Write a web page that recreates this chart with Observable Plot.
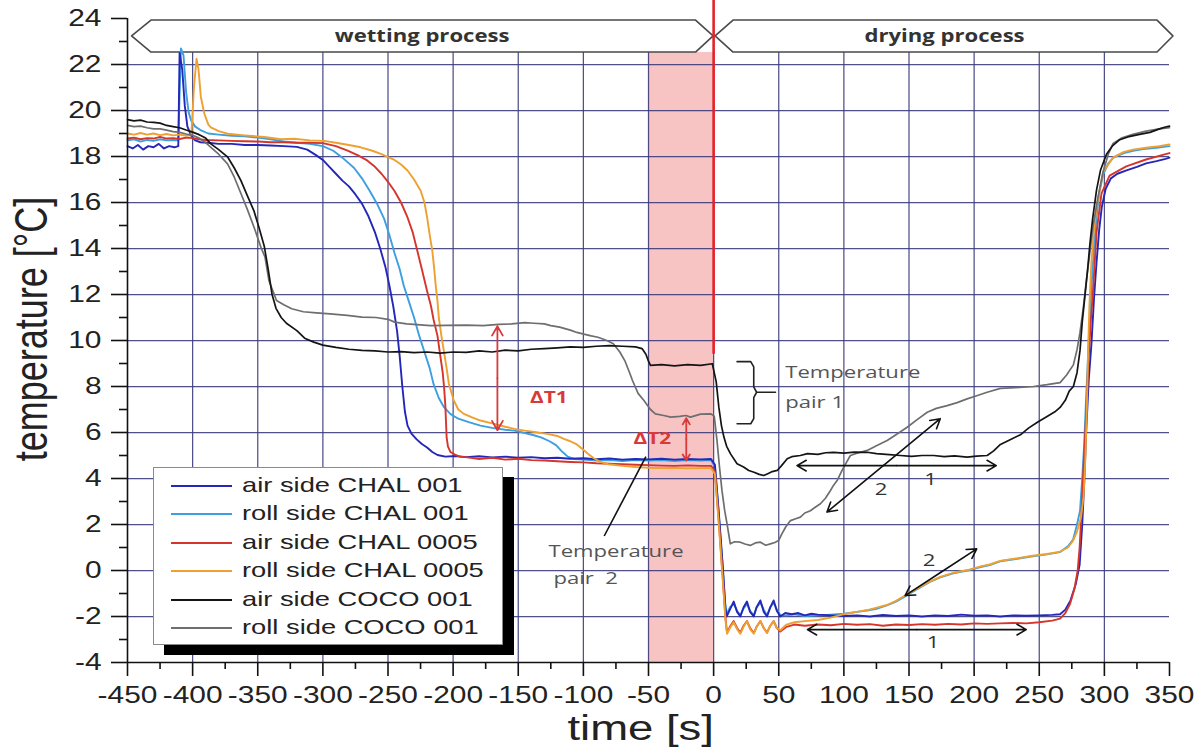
<!DOCTYPE html>
<html>
<head>
<meta charset="utf-8">
<script src="https://cdn.jsdelivr.net/npm/d3@7"></script>
<script src="https://cdn.jsdelivr.net/npm/@observablehq/plot@0.6"></script>
<style>
  body { margin: 0; background: #fff; }
  #wrap { position: relative; width: 1203px; height: 753px; overflow: hidden; }
  #legend { position: absolute; left: 153px; top: 467px; width: 348px; height: 176px;
            background: #fff; border: 1.5px solid #8a8a8a; box-shadow: 11px 10px 0 #000; }
  .lrow { position: absolute; left: 0; height: 28px; width: 100%; }
  .lline { position: absolute; left: 17px; width: 61px; top: 13px; height: 0; }
  .ltext { position: absolute; left: 88px; top: 1px; font-family: "Liberation Sans", Arial, sans-serif;
           font-size: 21px; color: #222; white-space: nowrap; transform: scaleX(1.3); transform-origin: left center; }
</style>
</head>
<body>
<div id="wrap"><div id="chart"></div><div id="legend"></div></div>
<script>
// ---------- axes / ticks ----------
const xMajor = [-450,-400,-350,-300,-250,-200,-150,-100,-50,0,50,100,150,200,250,300,350];
const xMinor = [-425,-375,-325,-275,-225,-175,-125,-75,-25,25,75,125,175,225,275,325];
const yMajor = [-4,-2,0,2,4,6,8,10,12,14,16,18,20,22,24];
const yMinor = [-3,-1,1,3,5,7,9,11,13,15,17,19,21,23];
const xGrid = [-400,-350,-300,-250,-200,-150,-100,-50,0,50,100,150,200,250,300];
const yGrid = [-2,0,2,4,6,8,10,12,14,16,18,20,22];

// ---------- series ----------
const seriesNames = ["air side CHAL 001","roll side CHAL 001","air side CHAL 0005","roll side CHAL 0005","air side COCO 001","roll side COCO 001"];
const seriesColors = ["#2427b8","#3d9fe0","#d6352b","#eea030","#141414","#6e6e6e"];

const airChal001 = [[-450,18.45],[-446,18.35],[-442,18.5],[-438,18.3],[-434,18.45],[-430,18.4],[-426,18.55],[-422,18.35],[-418,18.45],[-414,18.4],[-411,18.45],[-410,22.5],[-408,21.8],[-406,20.2],[-404,19.3],[-401,18.9],[-398,18.7],[-394,18.62],[-388,18.6],[-380,18.55],[-370,18.55],[-360,18.5],[-350,18.5],[-340,18.48],[-330,18.45],[-320,18.42],[-312,18.3],[-305,18.05],[-300,17.85],[-295,17.55],[-290,17.25],[-285,16.95],[-280,16.7],[-275,16.35],[-270,15.95],[-265,15.4],[-260,14.7],[-256,14.0],[-252,13.2],[-249,12.4],[-246,11.5],[-243,10.4],[-241,9.3],[-239,8.0],[-237,6.9],[-235,6.3],[-232,5.95],[-228,5.7],[-224,5.5],[-220,5.35],[-216,5.15],[-212,5.02],[-206,4.95],[-198,4.98],[-190,4.93],[-180,4.97],[-170,4.92],[-160,4.95],[-150,4.9],[-140,4.93],[-130,4.88],[-120,4.9],[-110,4.86],[-100,4.88],[-90,4.84],[-80,4.87],[-70,4.82],[-60,4.85],[-50,4.83],[-40,4.86],[-30,4.82],[-20,4.85],[-10,4.83],[-2,4.85],[1,4.6],[4,2.5],[7,0.2],[9,-1.6],[10,-2.0],[12.5,-1.7],[15.4,-1.35],[18,-1.8],[20.5,-2.0],[23,-1.6],[25.6,-1.35],[28,-1.8],[30.8,-2.0],[33,-1.6],[35.9,-1.3],[38.5,-1.8],[41,-2.0],[43.5,-1.6],[46.1,-1.3],[48.5,-1.75],[51.2,-2.0],[55,-1.85],[60,-1.9],[65,-1.85],[70,-1.95],[75,-1.88],[80,-1.92],[90,-1.95],[100,-1.98],[110,-1.95],[120,-2.0],[130,-1.93],[140,-1.98],[150,-1.95],[160,-2.0],[170,-1.95],[180,-1.98],[190,-1.92],[200,-1.96],[210,-1.95],[220,-2.0],[230,-1.95],[240,-1.97],[250,-1.95],[260,-1.93],[266,-1.9],[270,-1.7],[274,-1.3],[278,-0.6],[281,0.25],[283,2.0],[284.5,3.8],[286,6.0],[288,8.3],[290,9.8],[292,11.8],[294,13.4],[296,14.8],[298,15.8],[301,16.6],[305,17.05],[310,17.25],[317,17.4],[325,17.55],[332,17.7],[340,17.8],[347,17.9],[350,17.95]];

const rollChal001 = [[-450,18.7],[-445,18.75],[-440,18.65],[-435,18.72],[-430,18.68],[-425,18.75],[-420,18.7],[-415,18.72],[-411,18.7],[-409,22.7],[-407,22.4],[-405,20.8],[-403,19.9],[-401,19.55],[-398,19.3],[-394,19.15],[-388,19.0],[-380,18.95],[-370,18.9],[-360,18.88],[-350,18.82],[-340,18.75],[-330,18.65],[-320,18.6],[-310,18.55],[-300,18.45],[-292,18.25],[-285,17.95],[-280,17.7],[-276,17.5],[-270,17.05],[-264,16.5],[-258,15.9],[-253,15.3],[-249,14.6],[-245,13.8],[-241,13.1],[-238,12.4],[-234,11.7],[-230,11.0],[-226,10.2],[-222,9.5],[-218,8.8],[-215,8.1],[-211,7.5],[-207,7.1],[-202,6.8],[-196,6.6],[-188,6.45],[-179,6.3],[-170,6.2],[-160,6.12],[-153,6.08],[-145,5.98],[-138,5.88],[-132,5.78],[-126,5.62],[-121,5.45],[-116,5.15],[-112,4.95],[-107,4.85],[-100,4.82],[-90,4.78],[-80,4.8],[-70,4.76],[-60,4.8],[-50,4.78],[-40,4.8],[-30,4.76],[-20,4.8],[-10,4.78],[-2,4.8],[1,4.5],[4,2.4],[7,0.1],[9,-1.5],[10,-1.9],[12.5,-1.6],[15.4,-1.45],[18,-1.75],[20.5,-1.95],[23,-1.65],[25.6,-1.45],[28,-1.75],[30.8,-1.95],[33,-1.6],[35.9,-1.4],[38.5,-1.7],[41,-1.95],[43.5,-1.6],[46.1,-1.4],[48.5,-1.7],[51.2,-1.95],[56,-1.95],[62,-1.9],[70,-1.98],[80,-1.95],[90,-1.92],[100,-1.88],[110,-1.8],[118,-1.74],[126,-1.65],[133,-1.52],[140,-1.35],[146,-1.16],[152,-0.95],[159,-0.72],[166,-0.5],[174,-0.3],[184,-0.12],[195,0.0],[205,0.15],[212,0.24],[220,0.4],[232,0.5],[245,0.62],[256,0.7],[266,0.8],[272,1.05],[276,1.35],[279,2.0],[281.3,2.6],[283,4.0],[284.5,5.5],[286,7.5],[288,10.0],[290,12.3],[292,14.0],[294,15.4],[296,16.4],[299,17.2],[303,17.7],[307,17.95],[315,18.15],[322,18.25],[330,18.32],[340,18.38],[350,18.45]];

const airChal0005 = [[-450,18.78],[-445,18.82],[-440,18.75],[-435,18.8],[-430,18.78],[-425,18.85],[-420,18.78],[-415,18.8],[-410,18.76],[-405,18.82],[-400,18.8],[-395,18.75],[-390,18.72],[-380,18.7],[-370,18.68],[-360,18.66],[-350,18.65],[-340,18.62],[-330,18.62],[-320,18.6],[-310,18.6],[-300,18.58],[-290,18.45],[-281,18.26],[-273,18.05],[-266,17.83],[-260,17.55],[-255,17.25],[-250,16.9],[-245,16.5],[-240,16.0],[-235,15.35],[-231,14.7],[-227.5,13.9],[-224,13.1],[-220,12.15],[-217,11.5],[-215,10.9],[-212,10.2],[-210,9.4],[-208,8.6],[-207,8.0],[-206,7.2],[-205.5,6.5],[-205,5.8],[-204,5.4],[-202,5.15],[-199,5.05],[-195,4.95],[-189,4.92],[-180,4.85],[-170,4.9],[-160,4.82],[-150,4.86],[-140,4.8],[-130,4.78],[-120,4.75],[-110,4.72],[-100,4.7],[-90,4.66],[-80,4.64],[-70,4.62],[-60,4.6],[-50,4.58],[-40,4.56],[-30,4.55],[-20,4.57],[-10,4.55],[-2,4.55],[1,4.3],[4,2.1],[7,-0.3],[9,-2.0],[10.3,-2.7],[12.5,-2.45],[15.4,-2.2],[18,-2.5],[20.5,-2.7],[23,-2.4],[25.6,-2.2],[28,-2.5],[30.8,-2.72],[33,-2.45],[35.9,-2.2],[38.5,-2.5],[41,-2.7],[43.5,-2.4],[46.1,-2.2],[48.5,-2.5],[51.2,-2.65],[56,-2.45],[62,-2.35],[70,-2.4],[80,-2.35],[90,-2.38],[100,-2.32],[110,-2.36],[120,-2.33],[130,-2.4],[140,-2.35],[150,-2.37],[160,-2.33],[170,-2.36],[180,-2.32],[190,-2.35],[200,-2.3],[210,-2.32],[220,-2.3],[230,-2.28],[240,-2.3],[250,-2.25],[260,-2.18],[266,-2.09],[270,-1.85],[273.6,-1.46],[277,-0.8],[279.5,0.0],[281,1.0],[282.5,2.6],[284,4.5],[285.8,6.5],[287.5,8.8],[289.5,10.8],[291,11.9],[294,14.7],[297.8,16.4],[304,17.17],[316.8,17.57],[332,17.87],[347,18.1],[350,18.15]];

const rollChal0005 = [[-450,19.0],[-445,18.95],[-440,19.02],[-435,18.95],[-430,19.0],[-425,18.93],[-420,18.98],[-415,18.92],[-410,18.95],[-405,18.9],[-401,18.92],[-399,21.0],[-397,22.25],[-395.5,21.8],[-393.7,20.6],[-391,19.86],[-388,19.4],[-386,19.27],[-380,19.1],[-373,18.99],[-360,18.92],[-345,18.85],[-332,18.75],[-322,18.77],[-310,18.7],[-299,18.68],[-290,18.6],[-280,18.5],[-271,18.4],[-262,18.25],[-255,18.1],[-250,17.97],[-245,17.85],[-240,17.65],[-235,17.39],[-230,17.0],[-225,16.52],[-222,16.0],[-220,15.36],[-218,14.6],[-216,13.91],[-214.5,13.1],[-213.5,12.46],[-212,11.7],[-211,11.0],[-209,10.2],[-207.2,9.57],[-205,8.8],[-203.3,8.12],[-199.5,7.39],[-196,7.0],[-191.8,6.81],[-185,6.65],[-179,6.52],[-170,6.4],[-160,6.25],[-153,6.16],[-145,6.08],[-135,6.0],[-127.8,5.94],[-120,5.85],[-115,5.72],[-110,5.62],[-105,5.48],[-100,5.25],[-96,5.05],[-92,4.88],[-87,4.72],[-81,4.62],[-70,4.55],[-60,4.5],[-50,4.47],[-40,4.45],[-30,4.46],[-20,4.44],[-10,4.45],[-2,4.45],[1,4.2],[4,2.0],[7,-0.4],[9,-2.1],[10.3,-2.75],[12.5,-2.5],[15.4,-2.25],[18,-2.55],[20.5,-2.75],[23,-2.45],[25.6,-2.2],[28,-2.55],[30.8,-2.75],[33,-2.45],[35.9,-2.2],[38.5,-2.5],[41,-2.72],[43.5,-2.4],[46.1,-2.2],[48.5,-2.5],[51.2,-2.6],[56,-2.35],[62,-2.25],[70,-2.2],[80,-2.15],[90,-2.05],[100,-1.9],[110,-1.8],[118,-1.72],[126,-1.6],[133,-1.5],[140,-1.32],[146,-1.12],[152,-0.92],[159,-0.7],[166,-0.48],[174,-0.28],[184,-0.1],[195,0.02],[205,0.18],[212,0.26],[220,0.42],[232,0.52],[245,0.64],[256,0.72],[266,0.82],[272,1.0],[276,1.3],[279,1.7],[282,2.3],[284,3.2],[285.5,5.0],[286.5,7.0],[287.5,9.5],[288.5,11.5],[290.1,13.45],[292,14.8],[294,15.8],[299,17.33],[306.7,17.96],[315,18.2],[322,18.3],[332,18.38],[342,18.45],[350,18.52]];

const airCoco001 = [[-450,19.6],[-445,19.55],[-440,19.58],[-435,19.5],[-430,19.48],[-425,19.45],[-420,19.35],[-415,19.3],[-410,19.25],[-405,19.15],[-400,19.06],[-395,18.95],[-390,18.8],[-386,18.55],[-380,18.3],[-373,17.97],[-368,17.5],[-363,16.96],[-358,16.3],[-353,15.65],[-349,14.9],[-345,14.1],[-342,13.1],[-339,12.0],[-336,11.4],[-332,11.0],[-328,10.75],[-320,10.43],[-314,10.1],[-307,9.93],[-300,9.8],[-290,9.7],[-280,9.62],[-270,9.57],[-260,9.55],[-250,9.5],[-240,9.52],[-230,9.47],[-220,9.5],[-210,9.45],[-200,9.5],[-190,9.48],[-180,9.55],[-170,9.5],[-160,9.58],[-150,9.55],[-140,9.62],[-130,9.65],[-120,9.68],[-110,9.72],[-100,9.7],[-90,9.75],[-80,9.78],[-70,9.75],[-60,9.72],[-55,9.65],[-52,9.4],[-50,9.1],[-48.5,8.92],[-40,8.95],[-30,8.9],[-20,8.95],[-10,8.92],[-1,8.99],[2,8.2],[4,7.1],[6,6.3],[7.9,5.8],[10,5.4],[13,5.07],[18,4.64],[23,4.5],[27,4.35],[31,4.27],[35,4.18],[38.5,4.13],[42,4.22],[45,4.3],[48.8,4.35],[52,4.55],[56.5,4.86],[60,4.95],[66.6,5.0],[72,5.08],[80,5.05],[86,5.12],[92,5.14],[100,5.1],[108,5.15],[117.9,5.14],[125,5.08],[135,5.04],[143.4,5.0],[152,4.96],[160,5.0],[169,5.0],[177,4.95],[185,4.98],[194.6,4.93],[202,4.97],[210,5.0],[215,5.2],[220.2,5.48],[228,5.7],[235.5,5.9],[242,6.2],[248.9,6.46],[256,6.7],[262,6.9],[266,7.09],[270,7.4],[273,7.8],[276.2,8.0],[279,8.6],[281.3,9.57],[283,10.8],[285,11.9],[287,13.0],[288.9,14.2],[291,15.3],[294,16.55],[297,17.4],[301.6,18.1],[306,18.45],[311.8,18.73],[318,18.85],[327,18.96],[335,19.05],[342.3,19.2],[346.2,19.27],[350,19.32]];

const rollCoco001 = [[-450,19.35],[-445,19.3],[-440,19.32],[-435,19.25],[-430,19.2],[-425,19.2],[-420,19.15],[-415,19.08],[-410,19.05],[-405,18.98],[-400,18.92],[-395,18.8],[-390,18.6],[-386,18.4],[-380,18.1],[-373.2,17.68],[-368,17.1],[-363,16.4],[-358,15.7],[-352.7,14.9],[-347.6,14.06],[-344.4,13.62],[-341.4,12.6],[-338,12.1],[-335.6,11.74],[-330,11.55],[-323.9,11.38],[-315,11.25],[-305,11.2],[-294.5,11.16],[-281.3,11.09],[-270,11.02],[-259.2,11.0],[-250,10.92],[-245,10.8],[-235.6,10.72],[-225,10.68],[-217.4,10.65],[-205,10.66],[-190,10.67],[-176.9,10.65],[-165,10.7],[-155,10.72],[-145,10.78],[-138.1,10.75],[-130,10.72],[-125,10.65],[-118.2,10.58],[-110,10.45],[-105,10.35],[-100.5,10.29],[-94,10.2],[-88.8,10.14],[-82,10.0],[-77,9.86],[-72,9.5],[-68,9.1],[-64.5,8.6],[-62.3,8.26],[-58,7.7],[-53.5,7.39],[-48.5,7.0],[-44.7,6.81],[-38.3,6.74],[-32.9,6.67],[-26,6.7],[-21.2,6.74],[-17.8,6.67],[-10,6.8],[-2,6.81],[0.5,6.7],[2.6,5.65],[4.5,4.5],[6.4,3.48],[8.5,2.6],[10.3,2.03],[12.8,1.16],[16,1.25],[20.5,1.23],[24,1.15],[28.2,1.09],[32,1.2],[35.9,1.23],[40,1.1],[43.6,1.16],[47,1.22],[49.9,1.3],[52.5,1.6],[55.2,1.88],[59,2.17],[63,2.25],[66.6,2.32],[70,2.5],[74.3,2.6],[78,2.75],[82,2.9],[86,3.15],[89.7,3.48],[92,3.7],[94.8,3.91],[98.6,4.35],[102,4.7],[105,5.0],[110,5.1],[117.9,5.22],[125,5.42],[133.2,5.65],[140,5.9],[148.6,6.23],[156,6.55],[164,6.88],[171,7.05],[179.3,7.17],[187,7.3],[194.6,7.46],[202,7.6],[210,7.75],[220.2,7.92],[232,7.95],[245.6,8.0],[256,8.08],[266,8.17],[271,8.5],[276.2,8.94],[279,9.6],[281.3,10.35],[284,11.5],[286.3,12.67],[289,13.9],[291.4,15.0],[295,16.2],[299,17.33],[303,18.1],[306.7,18.57],[313,18.8],[321.9,18.96],[332,19.1],[342.3,19.2],[350,19.25]];

const seriesData = [airChal001, rollChal001, airChal0005, rollChal0005, airCoco001, rollCoco001];
const drawOrder = [1, 0, 2, 3, 5, 4];

// ---------- annotations (data coordinates) ----------
const shadedPeriod = [{x1: -50, x2: 0, y1: -4, y2: 22.52}];
const processBands = [
  {band: "wetting", x: -446.5, lo: 23.22, hi: 23.22}, {band: "wetting", x: -431.6, lo: 22.52, hi: 23.91},
  {band: "wetting", x: -13.5, lo: 22.52, hi: 23.91}, {band: "wetting", x: 0, lo: 23.22, hi: 23.22},
  {band: "drying", x: 1.5, lo: 23.22, hi: 23.22}, {band: "drying", x: 15.3, lo: 22.52, hi: 23.91},
  {band: "drying", x: 340.8, lo: 22.52, hi: 23.91}, {band: "drying", x: 353, lo: 23.22, hi: 23.22}
];
const bandLabels = [{x: -223.8, y: 23.2, text: "wetting process"}, {x: 177.3, y: 23.2, text: "drying process"}];
const switchLine = [{x: 0, y1: 9.4, y2: 24.8}];
const deltaArrows = [{x1: -166, y1: 10.62, x2: -166, y2: 6.1}, {x1: -21, y1: 6.62, x2: -21, y2: 4.78}];
const deltaLabels = [{x: -126.5, y: 7.5, text: "ΔT1"}, {x: -47, y: 5.72, text: "ΔT2"}];
const blackArrows = [
  {x1: 64, y1: 4.56, x2: 217, y2: 4.56},
  {x1: 87, y1: 2.54, x2: 174, y2: 6.6},
  {x1: 147, y1: -1.09, x2: 202, y2: 0.94},
  {x1: 72, y1: -2.57, x2: 240, y2: -2.57}
];
const numberLabels = [{x: 166.5, y: 3.95, text: "1"}, {x: 128.5, y: 3.5, text: "2"}, {x: 165.5, y: 0.45, text: "2"}, {x: 168.5, y: -3.12, text: "1"}];
const pairTexts = [
  {x: 55, y: 8.62, text: "Temperature"}, {x: 55, y: 7.32, text: "pair 1"},
  {x: -126.8, y: 0.83, text: "Temperature"}, {x: -123, y: -0.35, text: "pair  2"}
];
const pair1Bracket = [[18,9.08],[28.5,9.08],[30.8,8.85],[30.8,7.98],[33,7.75],[47.5,7.75],[33,7.75],[30.8,7.52],[30.8,6.6],[28.5,6.38],[18,6.38]];
const pair2Pointer = [{x1: -84, y1: 1.5, x2: -52, y2: 4.95}];

// split double-headed arrows into two arrows from the middle
const dbl = arr => arr.flatMap(a => {
  const mx = (a.x1 + a.x2) / 2, my = (a.y1 + a.y2) / 2;
  return [{x1: mx, y1: my, x2: a.x1, y2: a.y1}, {x1: mx, y1: my, x2: a.x2, y2: a.y2}];
});

const gridColor = "#3c3c7c";
const lineMarks = drawOrder.map(i => Plot.line(seriesData[i], {x: d => d[0], y: d => d[1], stroke: seriesColors[i], strokeWidth: i >= 4 ? 1.7 : 1.9}));

const chart = Plot.plot({
  width: 1203, height: 753,
  marginLeft: 127, marginRight: 34, marginTop: 18, marginBottom: 91,
  x: {domain: [-450, 350]},
  y: {domain: [-4, 24]},
  style: {fontFamily: "'Liberation Sans', Arial, sans-serif", background: "#fff", color: "#222"},
  marks: [
    Plot.rect(shadedPeriod, {x1: "x1", x2: "x2", y1: "y1", y2: "y2", fill: "#f7c3c3"}),
    Plot.ruleX(xGrid, {y1: -4, y2: 22.52, stroke: gridColor, strokeWidth: 1.25, strokeOpacity: 0.9}),
    Plot.ruleY(yGrid, {x1: -450, x2: 350, stroke: gridColor, strokeWidth: 1.25, strokeOpacity: 0.9}),
    Plot.areaY(processBands, {x: "x", y1: "lo", y2: "hi", z: "band", fill: "#fff", stroke: "#4a4a4a", strokeWidth: 1.6}),
    Plot.text(bandLabels, {x: "x", y: "y", text: "text", fontFamily: "'Open Sans', sans-serif", fontWeight: "bold", fontSize: 17, fill: "#333"}),
    ...lineMarks,
    Plot.ruleX(switchLine, {x: "x", y1: "y1", y2: "y2", stroke: "#e3232a", strokeWidth: 2.6}),
    Plot.arrow(dbl(deltaArrows), {x1: "x1", y1: "y1", x2: "x2", y2: "y2", stroke: "#d83a3a", strokeWidth: 1.8, headLength: 9}),
    Plot.text(deltaLabels, {x: "x", y: "y", text: "text", fill: "#d83a3a", fontFamily: "'Open Sans', sans-serif", fontWeight: "bold", fontSize: 16}),
    Plot.arrow(dbl(blackArrows), {x1: "x1", y1: "y1", x2: "x2", y2: "y2", stroke: "#111", strokeWidth: 1.6, headLength: 10}),
    Plot.text(numberLabels, {x: "x", y: "y", text: "text", fill: "#333", fontFamily: "'Open Sans', sans-serif", fontSize: 17}),
    Plot.line(pair1Bracket, {x: d => d[0], y: d => d[1], stroke: "#222", strokeWidth: 1.6}),
    Plot.link(pair2Pointer, {x1: "x1", y1: "y1", x2: "x2", y2: "y2", stroke: "#111", strokeWidth: 1.6}),
    Plot.text(pairTexts, {x: "x", y: "y", text: "text", textAnchor: "start", fill: "#555", fontFamily: "'Open Sans', sans-serif", fontSize: 17}),
    Plot.ruleX([-450], {y1: -4, y2: 24, stroke: "#111", strokeWidth: 1.6}),
    Plot.ruleY([-4], {x1: -450, x2: 350, stroke: "#111", strokeWidth: 1.6}),
    Plot.axisX({ticks: xMajor, tickSize: 14, tickPadding: 10, fontSize: 23, tickFormat: d => String(d), label: null, stroke: "#111", strokeWidth: 1.6}),
    Plot.axisX({ticks: xMinor, tickSize: 7, tickFormat: () => "", label: null, stroke: "#111", strokeWidth: 1.6}),
    Plot.axisY({ticks: yMajor, tickSize: 16, tickPadding: 10, fontSize: 23, tickFormat: d => String(d), label: null, stroke: "#111", strokeWidth: 1.6}),
    Plot.axisY({ticks: yMinor, tickSize: 8, tickFormat: () => "", label: null, stroke: "#111", strokeWidth: 1.6}),
    Plot.text(["time [s]"], {x: -56, y: -4, dy: 66, fontSize: 35, fill: "#222"}),
    Plot.text(["temperature [°C]"], {x: -450, y: 10.5, dx: -95, rotate: -90, fontSize: 36, fill: "#222"})
  ]
});
document.getElementById("chart").appendChild(chart);

// the reference picture is horizontally stretched: widen every glyph about its anchor
const K = 1.3;
chart.querySelectorAll("text").forEach(t => {
  if (!t.textContent.trim()) return;
  const tr = t.getAttribute("transform");
  if (tr) {
    t.setAttribute("transform", tr + (/rotate\(/.test(tr) ? ` scale(1,${K})` : ` scale(${K},1)`));
  } else {
    const x = parseFloat(t.getAttribute("x")) || 0;
    t.setAttribute("transform", `translate(${x},0) scale(${K},1) translate(${-x},0)`);
  }
});

// legend
const legend = document.getElementById("legend");
seriesNames.forEach((name, i) => {
  const row = document.createElement("div");
  row.className = "lrow";
  row.style.top = (4 + i * 28.4) + "px";
  row.innerHTML = `<div class="lline" style="border-top:2.5px solid ${seriesColors[i]}"></div><div class="ltext">${name}</div>`;
  legend.appendChild(row);
});
</script>
</body>
</html>
